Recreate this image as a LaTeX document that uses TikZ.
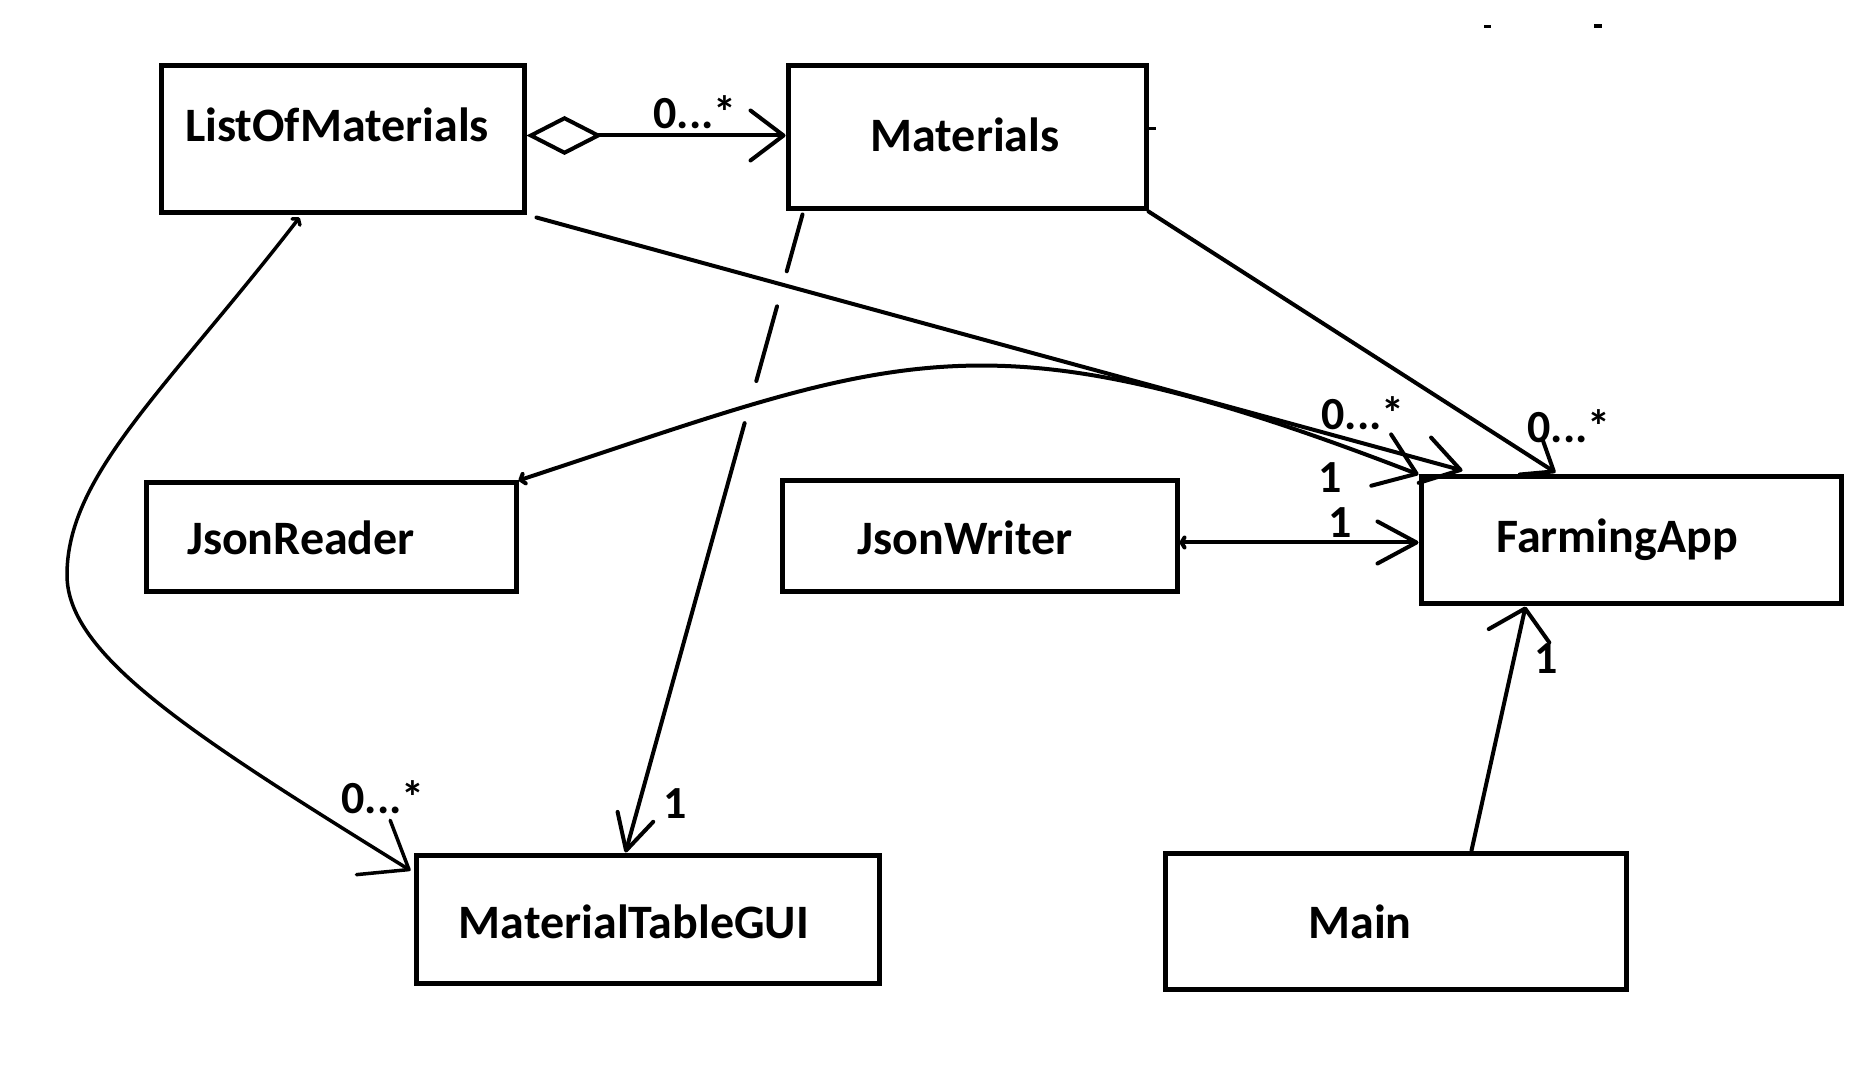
\documentclass[tikz,border=0pt]{standalone}
\usepackage{fontspec}
\setmainfont{Carlito}
\usetikzlibrary{arrows.meta,calc}
\begin{document}
\begin{tikzpicture}[x=1pt,y=1pt,
  box/.style={draw, line width=5pt, inner sep=0pt, rectangle},
  txt/.style={anchor=base, inner sep=0pt, font=\bfseries\fontsize{48}{56}\selectfont},
  lbl/.style={anchor=base, inner sep=0pt, font=\bfseries\fontsize{46}{55}\selectfont},
  conn/.style={line width=4pt, line cap=round},
  barb/.style 2 args={-{Straight Barb[round,length=#1,width=#2]}},
]
\path[use as bounding box, fill=white] (0,0) rectangle (1873,1088);

% boxes
\node[box, minimum width=363pt, minimum height=147pt] (lom) at (342.5,948.5) {};
\node[box, minimum width=358pt, minimum height=143pt] (mat) at (967,950.5) {};
\node[box, minimum width=370pt, minimum height=109pt] (jr) at (331,550.5) {};
\node[box, minimum width=395pt, minimum height=111pt] (jw) at (979.5,551.5) {};
\node[box, minimum width=420pt, minimum height=127pt] (fa) at (1631,547.5) {};
\node[box, minimum width=463pt, minimum height=128pt] (mtg) at (647.5,169) {};
\node[box, minimum width=461pt, minimum height=136pt] (main) at (1395.5,167) {};

% box texts
\node[txt] (tlom) at (337,946) {ListOfMaterials};
\node[txt] (tmat) at (965,936) {Materials};
\node[txt] (tjr) at (301,533) {JsonReader};
\node[txt] (tjw) at (965,533) {JsonWriter};
\node[txt] (tfa) at (1617,535) {FarmingApp};
\node[txt] (tmtg) at (634,150) {MaterialTableGUI};
\node[txt] (tmain) at (1360,150) {Main};

% multiplicity labels
\node[lbl] (l1) at (695,959) {0...*};
\node[lbl] (l2) at (1363,658) {0...*};
\node[lbl] (l3) at (1569,645) {0...*};
\node[lbl] (l4) at (1330,595) {1};
\node[lbl] (l5) at (1340,550) {1};
\node[lbl] (l6) at (1546,415) {1};
\node[lbl] (l7) at (675,270) {1};
\node[lbl] (l8) at (383,275) {0...*};

% aggregation ListOfMaterials -> Materials
\coordinate (aggs) at ($(lom.east)+(0,4)$);
\draw[conn, {Diamond[open,length=76pt,width=39pt]}-{Straight Barb[round,length=33pt,width=50pt]}]
  (aggs) -- (aggs -| mat.west);

% ListOfMaterials -> FarmingApp
\draw[conn, barb={37pt}{47pt}] ($(lom.south east)+(10,-2)$) -- ($(fa.north west)+(44,4)$);

% JsonReader curve -> FarmingApp
\draw[conn, {Straight Barb[round,length=4pt,width=10pt]}-{Straight Barb[round,length=38pt,width=55pt]}]
  (jr.north east) .. controls (900,733) and (980,783) .. (fa.north west);

% Materials -> FarmingApp
\draw[conn, barb={27pt}{42pt}] (mat.south east) -- ($(fa.north west)+(137,2)$);

% dashed Materials -> MaterialTableGUI
\coordinate (ds) at ($(mat.south west)+(17,-3)$);
\coordinate (de) at ($(mtg.north west)+(212,0)$);
\draw[conn] (ds) -- ($(ds)!0.089!(de)$);
\draw[conn] ($(ds)!0.144!(de)$) -- ($(ds)!0.261!(de)$);
\draw[conn, barb={35pt}{37pt}] ($(ds)!0.327!(de)$) -- (de);

% ListOfMaterials curve -> MaterialTableGUI
\coordinate (k) at (67,513);
\draw[conn, line width=3.5pt, {Straight Barb[round,length=4pt,width=10pt]}-{Straight Barb[round,length=42pt,width=64pt]}]
  ($(lom.south west)+(141,-2)$) .. controls (166,698) and (67,613) .. (k)
  .. controls (67,433) and (192,353) .. ($(mtg.north west)+(-3,-18)$);

% JsonWriter -> FarmingApp
\coordinate (jwe) at ($(jw.east)+(0,-6)$);
\draw[conn, {Straight Barb[round,length=3pt,width=10pt]}-{Straight Barb[round,length=39pt,width=42pt]}]
  (jwe) -- (jwe -| fa.west);

% Main -> FarmingApp
\draw[conn, barb={28pt}{62pt}] ($(main.north west)+(309,0)$) -- ($(fa.south west)+(107,0)$);

% stray marks
\fill (1484,1060) rectangle (1491,1063);
\fill (1594,1060) rectangle (1602,1064);
\draw[line width=3pt] ($(mat.east)+(0,8.5)$) -- ++(7,0);
\end{tikzpicture}
\end{document}
